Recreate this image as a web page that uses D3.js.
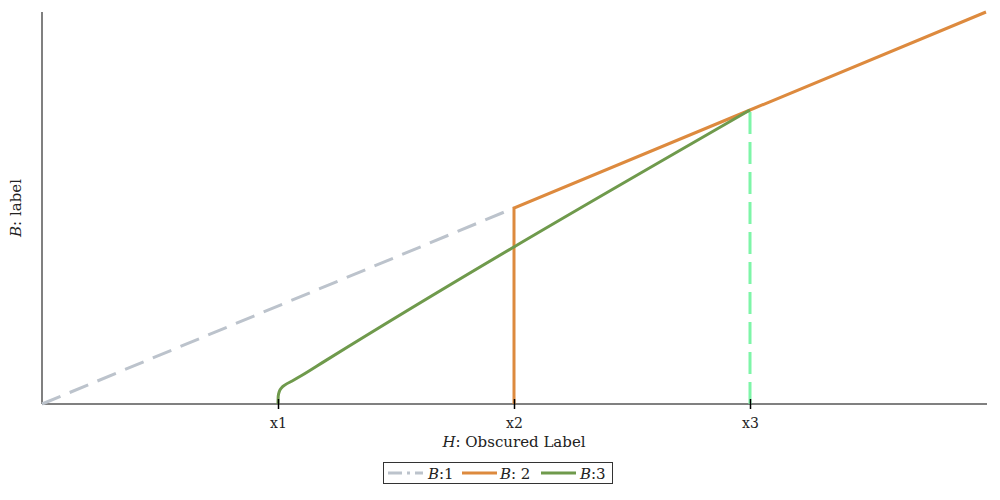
<!DOCTYPE html>
<html><head><meta charset="utf-8">
<script src="https://cdn.jsdelivr.net/npm/d3@7"></script>
<style>
body{margin:0;background:#fff;}
text{font-family:"DejaVu Serif",serif;}
</style></head>
<body><svg id="c" width="1000" height="500"></svg>
<script>
const tickValues = [1, 2, 3];
const tickLabels = ["x1", "x2", "x3"];
const series1 = [[0, 0], [2, 2]];
const series2 = [[2, 0], [2, 2], [3, 3], [4, 4]];
const series3 = [[1, 0], [1.001, 0.08], [1.006, 0.13], [1.015, 0.165], [1.03, 0.195], [1.06, 0.235], [1.1, 0.29], [1.2, 0.44], [3, 3]];
const guide3 = [[3, 0], [3, 3]];
const legendNames = ["1", " 2", "3"];

const svg = d3.select("#c");
const x = d3.scaleLinear().domain([0, 4]).range([42, 986]);
const y = d3.scaleLinear().domain([0, 4]).range([404, 12]);
const line = d3.line().x(d => x(d[0])).y(d => y(d[1]));

// axes
svg.append("line").attr("x1", x(0)).attr("x2", x(0)).attr("y1", y(0)).attr("y2", y(4))
  .attr("stroke", "#808080").attr("stroke-width", 2);
svg.append("line").attr("x1", x(0)).attr("x2", 987).attr("y1", y(0)).attr("y2", y(0))
  .attr("stroke", "#808080").attr("stroke-width", 2);

// lines
svg.append("path").attr("d", line(series1)).attr("fill", "none")
  .attr("stroke", "#bcc3cc").attr("stroke-width", 3).attr("stroke-dasharray", "20,10");
svg.append("path").attr("d", line(guide3)).attr("fill", "none")
  .attr("stroke", "#7ef5a8").attr("stroke-width", 3).attr("stroke-dasharray", "22,8");
svg.append("path").attr("d", line(series2)).attr("fill", "none")
  .attr("stroke", "#dd8a3e").attr("stroke-width", 3);
svg.append("path").attr("d", line.curve(d3.curveMonotoneX)(series3)).attr("fill", "none")
  .attr("stroke", "#6f9a4c").attr("stroke-width", 3).attr("stroke-linejoin", "round");

// ticks
const xAxis = d3.axisBottom(x).tickValues(tickValues).tickFormat((d, i) => tickLabels[i]).tickSize(10).tickSizeOuter(0);
const g = svg.append("g").attr("transform", `translate(0,${y(0) - 5})`).call(xAxis);
g.select(".domain").remove();
g.selectAll(".tick line").attr("stroke", "#000").attr("stroke-width", 1.5);
g.selectAll(".tick text").attr("font-size", 14).attr("fill", "#222").attr("dy", "1.15em")
  .style("font-family", "DejaVu Serif");

// axis titles
const xt = svg.append("text").attr("x", 514).attr("y", 447).attr("text-anchor", "middle")
  .attr("font-size", 15).attr("fill", "#222");
xt.append("tspan").attr("font-style", "italic").text("H");
xt.append("tspan").text(": Obscured Label");
const yt = svg.append("text").attr("transform", "translate(21,208) rotate(-90)").attr("text-anchor", "middle")
  .attr("font-size", 15).attr("fill", "#222");
yt.append("tspan").attr("font-style", "italic").text("B");
yt.append("tspan").text(": label");

// legend
const lg = svg.append("g");
lg.append("rect").attr("x", 383.5).attr("y", 462.5).attr("width", 229).attr("height", 21)
  .attr("fill", "#fff").attr("stroke", "#333").attr("stroke-width", 1);
const items = [
  {c: "#bcc3cc", dash: "14,5,3,5", x: 388, tx: 428, name: legendNames[0]},
  {c: "#dd8a3e", dash: null, x: 462, tx: 500, name: legendNames[1]},
  {c: "#6f9a4c", dash: null, x: 541, tx: 580, name: legendNames[2]}
];
items.forEach(it => {
  const l = lg.append("line").attr("x1", it.x).attr("x2", it.x + 35).attr("y1", 473).attr("y2", 473)
    .attr("stroke", it.c).attr("stroke-width", 3);
  if (it.dash) l.attr("stroke-dasharray", it.dash);
  const t = lg.append("text").attr("x", it.tx).attr("y", 479).attr("font-size", 15).attr("fill", "#222");
  t.append("tspan").attr("font-style", "italic").text("B");
  t.append("tspan").text(":" + it.name);
});
</script></body></html>
